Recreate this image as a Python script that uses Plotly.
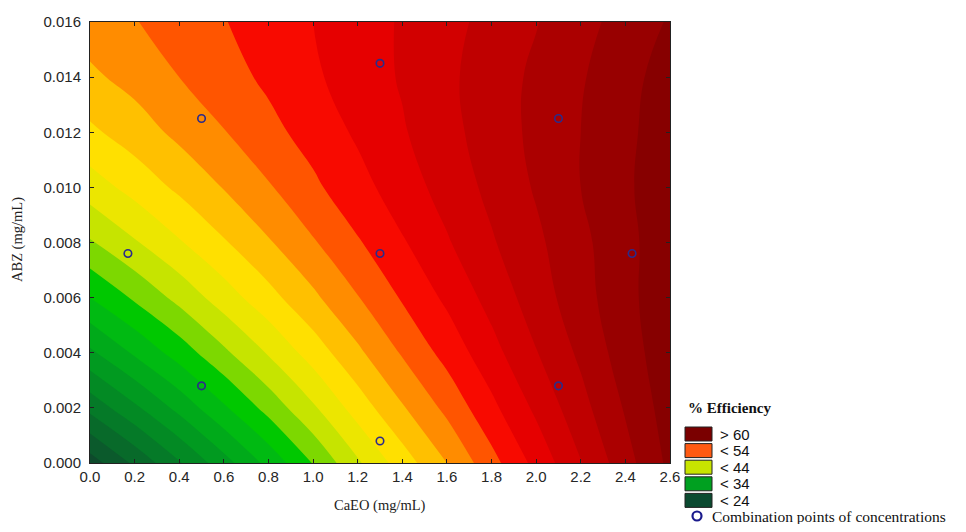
import plotly.graph_objects as go

# ---- data ----
caeo_grid = [0.0, 0.2, 0.4, 0.6, 0.8, 1.0, 1.2, 1.4, 1.6, 1.8, 2.0, 2.2, 2.4, 2.6]
abz_grid = [0.000, 0.002, 0.004, 0.006, 0.008, 0.010, 0.012, 0.014, 0.016]

# % efficiency surface, one row per ABZ value (estimated from the contour bands)
eff_000 = [23.0, 26.4, 29.8, 33.2, 36.6, 40.1, 43.7, 47.0, 50.0, 53.3, 56.6, 59.9, 63.2, 66.5]
eff_002 = [28.6, 31.6, 34.6, 37.7, 40.7, 43.7, 46.9, 49.8, 52.5, 55.5, 58.4, 61.3, 64.2, 67.0]
eff_004 = [33.6, 36.3, 38.9, 41.6, 44.2, 46.9, 49.6, 52.2, 54.7, 57.3, 59.9, 62.4, 65.0, 67.3]
eff_006 = [38.0, 40.3, 42.6, 45.0, 47.3, 49.6, 51.9, 54.2, 56.4, 58.7, 61.0, 63.2, 65.4, 67.4]
eff_008 = [41.8, 43.8, 45.8, 47.8, 49.8, 51.8, 53.8, 55.8, 57.8, 59.8, 61.6, 63.5, 65.4, 67.3]
eff_010 = [45.0, 46.7, 48.4, 50.1, 51.8, 53.6, 55.3, 57.0, 58.8, 60.5, 62.2, 64.0, 65.7, 67.2]
eff_012 = [47.6, 49.0, 50.5, 51.9, 53.4, 54.8, 56.3, 57.8, 59.4, 60.9, 62.5, 64.0, 65.6, 67.0]
eff_014 = [49.6, 50.7, 52.0, 53.2, 54.4, 55.7, 56.9, 58.2, 59.6, 61.0, 62.4, 63.8, 65.4, 66.8]
eff_016 = [51.0, 51.9, 52.9, 53.9, 55.0, 56.0, 57.1, 58.2, 59.4, 60.6, 61.9, 63.3, 64.8, 66.2]

# design (combination) points
point_caeo = [0.5, 1.3, 2.1, 0.17, 1.3, 2.43, 0.5, 2.1, 1.3]
point_abz = [0.0125, 0.0145, 0.0125, 0.0076, 0.0076, 0.0076, 0.0028, 0.0028, 0.0008]

# legend entries
legend_labels = ["> 60", "< 54", "< 44", "< 34", "< 24"]
legend_colors = ["#7a0000", "#ff5a12", "#c8e400", "#00a020", "#0b4a30"]

# contour band colours (below 22, then every 2 units up to >= 68)
band_colors = [
    "#0b3b24", "#0e4a2c", "#0b5a2c", "#086a2a", "#057a28", "#038a24",
    "#019a20", "#00aa1a", "#00ba12", "#00c800", "#7dd800", "#c6e400",
    "#ece600", "#ffe000", "#ffc000", "#ff8c00", "#ff5500", "#f80a00",
    "#e60000", "#d20000", "#bf0000", "#ab0000", "#980000", "#870000",
    "#770000",
]

efficiency = [eff_000, eff_002, eff_004, eff_006, eff_008,
              eff_010, eff_012, eff_014, eff_016]

n = len(band_colors) - 1
colorscale = [[i / n, c] for i, c in enumerate(band_colors)]

# page body has an 8px margin: figure is laid out in screen coordinates minus 8
OFF = 8
W, H = 950, 516
ML, MR, MT, MB = 82, 288, 14, 61
PW, PH = W - ML - MR, H - MT - MB


def px(xs):
    return (xs - OFF - ML) / PW


def py(ys):
    return (H - MB - (ys - OFF)) / PH


fig = go.Figure()
fig.add_trace(go.Contour(
    x=caeo_grid, y=abz_grid, z=efficiency,
    autocontour=False,
    contours=dict(start=22, end=68, size=2, coloring="fill", showlines=False),
    colorscale=colorscale, showscale=False,
    line=dict(width=0, smoothing=1.3),
    hoverinfo="skip",
))
fig.add_trace(go.Scatter(
    x=point_caeo, y=point_abz, mode="markers",
    marker=dict(symbol="circle-open", size=7.5, color="#2b2b8a",
                line=dict(width=1.6, color="#2b2b8a")),
    showlegend=False, hoverinfo="skip",
))

shapes = []
annotations = []
serif = "Liberation Serif, Times New Roman, serif"
sans = "Liberation Sans, Arial, sans-serif"

# axis titles
annotations.append(dict(text="CaEO (mg/mL)", x=px(380), y=py(505), xref="paper", yref="paper",
                        showarrow=False, xanchor="center", yanchor="middle",
                        font=dict(family=serif, size=14.5, color="#222")))
annotations.append(dict(text="ABZ (mg/mL)", x=px(18), y=py(240), xref="paper", yref="paper",
                        showarrow=False, xanchor="center", yanchor="middle", textangle=-90,
                        font=dict(family=serif, size=14.5, color="#222")))

# legend
annotations.append(dict(text="<b>% Efficiency</b>", x=px(686), y=py(408), xref="paper", yref="paper",
                        showarrow=False, xanchor="left", yanchor="middle",
                        font=dict(family=serif, size=15, color="#111")))
box_top = 427
for i, (lab, col) in enumerate(zip(legend_labels, legend_colors)):
    t = box_top + i * 16.6
    shapes.append(dict(type="rect", xref="paper", yref="paper",
                       x0=px(685), x1=px(712), y0=py(t), y1=py(t + 14),
                       fillcolor=col, line=dict(color="#222", width=1)))
    annotations.append(dict(text=lab, x=px(718), y=py(t + 7), xref="paper", yref="paper",
                            showarrow=False, xanchor="left", yanchor="middle",
                            font=dict(family=sans, size=15, color="#111")))
shapes.append(dict(type="circle", xref="paper", yref="paper",
                   x0=px(692.5), x1=px(701.5), y0=py(511.5), y1=py(520.5),
                   line=dict(color="#1a1a8c", width=2.2), fillcolor="rgba(0,0,0,0)"))
annotations.append(dict(text="Combination points of concentrations", x=px(710), y=py(516),
                        xref="paper", yref="paper", showarrow=False, xanchor="left", yanchor="middle",
                        font=dict(family=serif, size=15.5, color="#111")))

axis_common = dict(showgrid=False, zeroline=False, showline=True, linecolor="#222", linewidth=1,
                   mirror="ticks", ticks="inside", ticklen=4, tickcolor="#222", automargin=False,
                   tickfont=dict(family=sans, size=15, color="#262626"))

fig.update_layout(
    width=W, height=H,
    margin=dict(l=ML, r=MR, t=MT, b=MB, pad=0, autoexpand=False),
    paper_bgcolor="white", plot_bgcolor="white",
    showlegend=False,
    xaxis=dict(range=[0, 2.6], dtick=0.2, tick0=0, tickformat=".1f", **axis_common),
    yaxis=dict(range=[0, 0.016], dtick=0.002, tick0=0, tickformat=".3f",
               ticklabelstandoff=5, **axis_common),
    shapes=shapes, annotations=annotations,
)

fig.write_html("out.html")
